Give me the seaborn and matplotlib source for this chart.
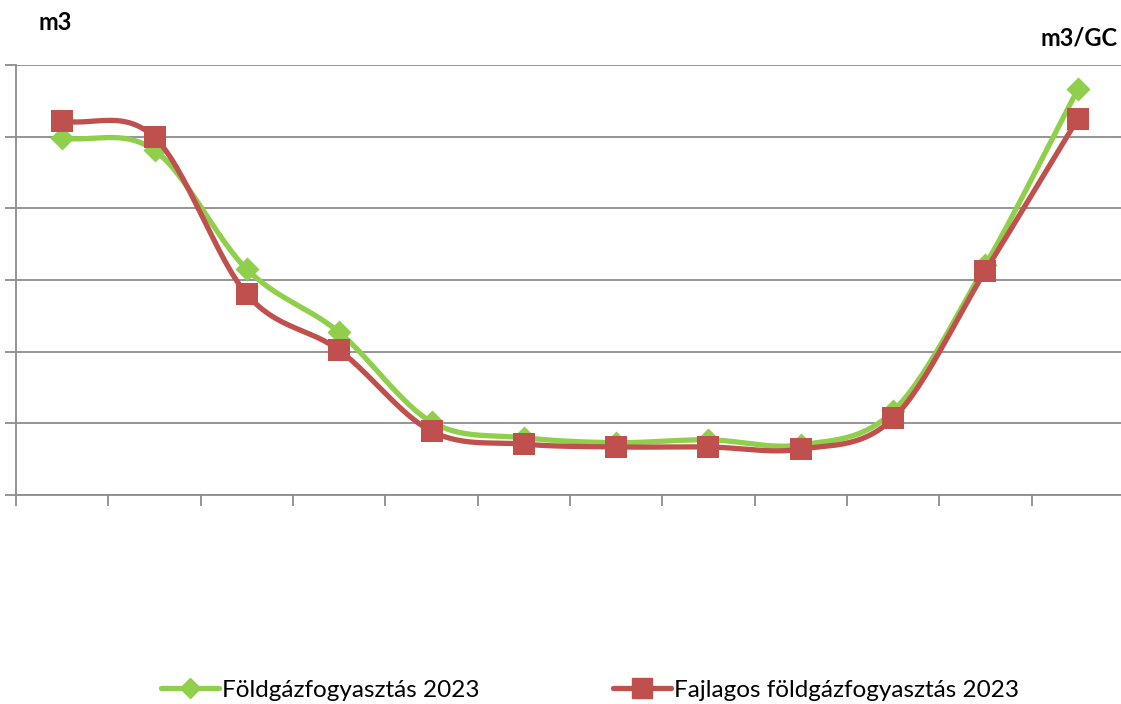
import numpy as np
import pandas as pd
import matplotlib
matplotlib.use("Agg")
import matplotlib.pyplot as plt
from matplotlib.lines import Line2D
import seaborn as sns

months = ["1", "2", "3", "4", "5", "6", "7", "8", "9", "10", "11", "12"]
gas_total = [4.98, 4.81, 3.15, 2.27, 1.02, 0.80, 0.73, 0.77, 0.70, 1.17, 3.21, 5.66]
gas_specific = [5.22, 4.99, 2.80, 2.02, 0.89, 0.71, 0.67, 0.67, 0.64, 1.07, 3.13, 5.25]
label_total = "Földgázfogyasztás 2023"
label_specific = "Fajlagos földgázfogyasztás 2023"

GREEN = "#8FCF4C"
RED = "#C0504D"
GRID = "#8C8C8C"

sns.set_theme(style="white")
plt.rcParams["font.family"] = ["Lato", "DejaVu Sans"]
plt.rcParams["text.color"] = "black"


def smooth(xs, ys, n=30):
    """Catmull-Rom path through the points (drawing style, like Excel smoothed lines)."""
    xs = np.asarray(xs, float)
    ys = np.asarray(ys, float)
    px = np.concatenate([[2 * xs[0] - xs[1]], xs, [2 * xs[-1] - xs[-2]]])
    py = np.concatenate([[2 * ys[0] - ys[1]], ys, [2 * ys[-1] - ys[-2]]])
    ox, oy = [], []
    t = np.linspace(0, 1, n)
    for i in range(1, len(px) - 2):
        for arr, out in ((px, ox), (py, oy)):
            p0, p1, p2, p3 = arr[i - 1], arr[i], arr[i + 1], arr[i + 2]
            m1 = (p2 - p0) / 2
            m2 = (p3 - p1) / 2
            h00 = 2 * t**3 - 3 * t**2 + 1
            h10 = t**3 - 2 * t**2 + t
            h01 = -2 * t**3 + 3 * t**2
            h11 = t**3 - t**2
            out.extend(h00 * p1 + h10 * m1 + h01 * p2 + h11 * m2)
    return np.array(ox), np.array(oy)


df = pd.DataFrame({"x": np.arange(len(months)), "month": months,
                   "total": gas_total, "specific": gas_specific})

fig = plt.figure(figsize=(11.21, 7.04), dpi=100)
ax = fig.add_axes([16 / 1121, 209 / 704, 1108 / 1121, 430 / 704])
ax2 = ax.twinx()

# green series (left axis)
sx, sy = smooth(df["x"], df["total"])
ax.plot(sx, sy, color=GREEN, lw=3.8, solid_capstyle="round", zorder=3)
sns.scatterplot(data=df, x="x", y="total", ax=ax, marker="D", s=150,
                color=GREEN, edgecolor=GREEN, linewidth=0, zorder=4, legend=False)

# red series (right axis)
rx, ry = smooth(df["x"], df["specific"])
ax2.plot(rx, ry, color=RED, lw=3.8, solid_capstyle="round", zorder=3)
sns.scatterplot(data=df, x="x", y="specific", ax=ax2, marker="s", s=260,
                color=RED, edgecolor=RED, linewidth=0, zorder=4, legend=False)

for a in (ax, ax2):
    a.set_xlim(-0.5, len(months) - 0.5)
    a.set_ylim(0, 6)
    a.set_xlabel("")
    a.set_ylabel("")

# grid
ax.set_yticks(np.arange(0, 7, 1))
ax.yaxis.grid(True, color=GRID, lw=1.3)
ax.set_axisbelow(True)
ax.set_yticklabels([])
ax.set_xticks(np.arange(-0.5, len(months) + 0.5, 1))
ax.set_xticklabels([])
ax.tick_params(axis="both", which="both", length=8, width=1.3, color=GRID,
               direction="out", left=True, bottom=True)
for s in ["top", "right"]:
    ax.spines[s].set_visible(False)
for s in ["left", "bottom"]:
    ax.spines[s].set_color(GRID)
    ax.spines[s].set_linewidth(1.3)

ax2.set_yticks([])
for s in ax2.spines.values():
    s.set_visible(False)

fig.text(38 / 1121, 1 - 22 / 704, "m3", fontsize=17, fontweight="bold",
         ha="left", va="center", color="black")
fig.text(1118 / 1121, 1 - 38 / 704, "m3/GC", fontsize=17, fontweight="bold",
         ha="right", va="center", color="black")

handles = [
    Line2D([0], [0], color=GREEN, lw=3.8, marker="D", markersize=10, label=label_total),
    Line2D([0], [0], color=RED, lw=3.8, marker="s", markersize=14, label=label_specific),
]
leg = fig.legend(handles=handles, loc="center", bbox_to_anchor=(590 / 1121, 1 - 690 / 704),
                 ncol=2, frameon=False, fontsize=17.5, handlelength=2.4, handletextpad=0.1,
                 columnspacing=5.5)
for t in leg.get_texts():
    t.set_color("black")

fig.savefig("out.png", dpi=100)
